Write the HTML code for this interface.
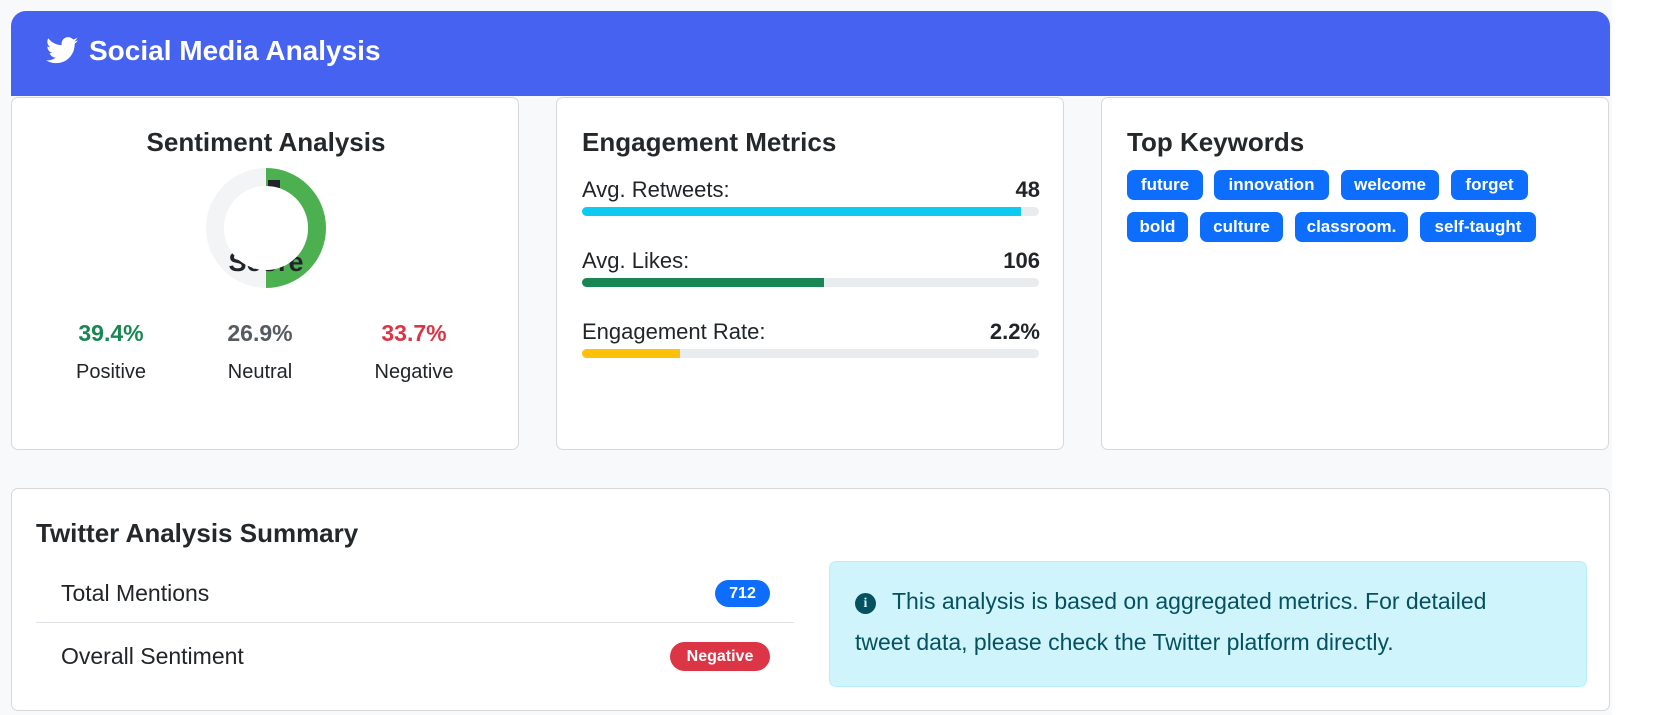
<!DOCTYPE html>
<html><head><meta charset="utf-8"><style>
*{box-sizing:border-box;margin:0;padding:0}
body{width:1674px;height:715px;background:#fff;font-family:"Liberation Sans",sans-serif;color:#212529;position:relative;overflow:hidden}
.wrap{position:absolute;left:0;top:0;width:1612px;height:715px;background:#f8f9fa}
.abs{position:absolute}
.header{left:11px;top:11px;width:1599px;height:85px;background:#4662f0;border-radius:15px 15px 0 0}
.card{background:#fff;border:1px solid #d6d8db;border-radius:7px}
.title{font-size:26px;font-weight:bold;white-space:nowrap;color:#25282b}
.badge{position:absolute;background:#0d6efd;color:#fff;font-weight:bold;font-size:17px;border-radius:7px;height:30px;line-height:30px;text-align:center}
.pct{font-size:23px;font-weight:bold;text-align:center;width:160px}
.lbl{font-size:20px;text-align:center;width:160px}
.row{font-size:23px}
</style></head><body>
<div class="wrap">
<div class="abs header">
<svg class="abs" style="left:35px;top:26px" width="32" height="27" viewBox="0 0 24 20"><path fill="#fff" d="M24 2.4c-.9.4-1.8.6-2.8.8 1-.6 1.8-1.6 2.2-2.7-1 .6-2 1-3.1 1.2C19.3.7 18 0 16.6 0c-2.7 0-4.9 2.2-4.9 4.9 0 .4 0 .8.1 1.1C7.7 5.8 4.1 3.900 1.7.9c-.4.7-.7 1.6-.7 2.5 0 1.7.9 3.2 2.2 4.1-.8 0-1.600-.2-2.2-.6v.1c0 2.4 1.7 4.4 3.9 4.8-.4.1-.8.2-1.3.2-.3 0-.6 0-.9-.1.6 2 2.4 3.4 4.6 3.4-1.7 1.3-3.8 2.1-6.1 2.1-.4 0-.8 0-1.2-.1 2.2 1.4 4.8 2.2 7.5 2.2 9.1 0 14-7.5 14-14v-.6c1-.7 1.8-1.6 2.5-2.5z"/></svg>
<div class="abs" style="left:78px;top:24px;font-size:28px;font-weight:bold;color:#fff">Social Media Analysis</div>
</div>

<div class="abs card" style="left:11px;top:97px;width:508px;height:353px">
<div class="abs title" style="left:0;width:508px;text-align:center;top:29px">Sentiment Analysis</div>
<svg class="abs" id="donut" style="left:194px;top:70px" width="120" height="120"></svg>
<div id="pcts"></div>
</div>

<div class="abs card" style="left:556px;top:97px;width:508px;height:353px">
<div class="abs title" style="left:25px;top:29px">Engagement Metrics</div>
<div id="eng"></div>
</div>

<div class="abs card" style="left:1101px;top:97px;width:508px;height:353px">
<div class="abs title" style="left:25px;top:29px">Top Keywords</div>
<div class="badge" style="left:25px;top:72px;width:76px">future</div>
<div class="badge" style="left:112px;top:72px;width:115px">innovation</div>
<div class="badge" style="left:239px;top:72px;width:98px">welcome</div>
<div class="badge" style="left:349px;top:72px;width:77px">forget</div>
<div class="badge" style="left:25px;top:114px;width:61px">bold</div>
<div class="badge" style="left:98px;top:114px;width:83px">culture</div>
<div class="badge" style="left:193px;top:114px;width:113px">classroom.</div>
<div class="badge" style="left:318px;top:114px;width:116px">self-taught</div>
</div>

<div class="abs card" style="left:11px;top:488px;width:1599px;height:223px">
<div class="abs title" style="left:24px;top:29px">Twitter Analysis Summary</div>
<div class="abs row" style="left:49px;top:91px">Total Mentions</div>
<div class="abs" style="left:703px;top:91px;width:55px;height:27px;border-radius:14px;background:#0d6efd;color:#fff;font-weight:bold;font-size:16px;text-align:center;line-height:27px">712</div>
<div class="abs" style="left:24px;top:133px;width:758px;height:1px;background:#dee2e6"></div>
<div class="abs row" style="left:49px;top:154px">Overall Sentiment</div>
<div class="abs" style="left:658px;top:153px;width:100px;height:29px;border-radius:15px;background:#dc3545;color:#fff;font-weight:bold;font-size:16px;text-align:center;line-height:29px">Negative</div>
<div class="abs" style="left:817px;top:72px;width:758px;height:126px;background:#cff4fc;border:1px solid #b6effb;border-radius:7px;color:#055160;font-size:23px;line-height:41px;padding:19px 10px 0 25px;white-space:nowrap"><span style="display:inline-block;width:21px;height:21px;border-radius:50%;background:#055160;color:#cff4fc;font-size:14px;font-weight:bold;text-align:center;line-height:21px;vertical-align:2px;margin-right:16px;font-family:'Liberation Serif',serif">i</span>This analysis is based on aggregated metrics. For detailed<br>tweet data, please check the Twitter platform directly.</div>
</div>
</div>
<script>
const sentimentLabels=["Positive","Neutral","Negative"];
const sentimentValues=[39.4,26.9,33.7];
const ringShare=[0.5];
const engLabels=["Avg. Retweets:","Avg. Likes:","Engagement Rate:"];
const engValues=["48","106","2.2%"];
const engFill=[96,53,21.5];
const engColors=["#0dcaf0","#198754","#ffc107"];
const sentColors=["#198754","#555b61","#dc3545"];
(function(){
const ns="http://www.w3.org/2000/svg",svg=document.getElementById('donut');
const cx=60,cy=60,r=51;
const bg=document.createElementNS(ns,'circle');
bg.setAttribute('cx',cx);bg.setAttribute('cy',cy);bg.setAttribute('r',r);bg.setAttribute('fill','none');bg.setAttribute('stroke','#f3f4f6');bg.setAttribute('stroke-width',18);


svg.appendChild(bg);
const a=ringShare[0]*2*Math.PI;
const p=document.createElementNS(ns,'path');
p.setAttribute('d',`M${cx} ${cy-r} A${r} ${r} 0 ${a>Math.PI?1:0} 1 ${cx+r*Math.sin(a)} ${cy-r*Math.cos(a)}`);
p.setAttribute('fill','none');p.setAttribute('stroke','#4caf50');p.setAttribute('stroke-width',18);


svg.appendChild(p);
const t=document.createElementNS(ns,'text');
t.setAttribute('x',cx);t.setAttribute('y',103);t.setAttribute('text-anchor','middle');t.setAttribute('font-size','27');t.setAttribute('font-weight','bold');t.setAttribute('fill','#212529');t.setAttribute('font-family','Liberation Sans, sans-serif');t.textContent='Score';


svg.appendChild(t);
const t2=document.createElementNS(ns,'rect');
t2.setAttribute('x',62);t2.setAttribute('y',12);t2.setAttribute('width',12);t2.setAttribute('height',8);t2.setAttribute('fill','#212529');


svg.appendChild(t2);
const inner=document.createElementNS(ns,'circle');
inner.setAttribute('cx',cx);inner.setAttribute('cy',cy);inner.setAttribute('r',42);inner.setAttribute('fill','#fff');


svg.appendChild(inner);
const pc=document.getElementById('pcts');const xs=[99,248,402];
sentimentLabels.forEach((l,i)=>{
const v=document.createElement('div');v.className='abs pct';v.style.left=(xs[i]-80)+'px';v.style.top='222px';v.style.color=sentColors[i];v.textContent=sentimentValues[i].toFixed(1)+'%';


pc.appendChild(v);
const d=document.createElement('div');d.className='abs lbl';d.style.left=(xs[i]-80)+'px';d.style.top='263px';d.textContent=l;


pc.appendChild(d);
});
const eng=document.getElementById('eng');const W=457;
engLabels.forEach((l,i)=>{
const top=79+i*71;
const lb=document.createElement('div');lb.className='abs';lb.style.cssText=`left:25px;top:${top}px;font-size:22px`;lb.textContent=l;


eng.appendChild(lb);
const vl=document.createElement('div');vl.className='abs';vl.style.cssText=`right:23px;top:${top}px;font-size:22px;font-weight:bold`;vl.textContent=engValues[i];


eng.appendChild(vl);
const tr=document.createElement('div');tr.className='abs';tr.style.cssText=`left:25px;top:${top+30}px;width:${W}px;height:9px;border-radius:5px;background:#e9ecef;overflow:hidden`;


const f=document.createElement('div');f.style.cssText=`width:${W*engFill[i]/100}px;height:9px;background:${engColors[i]}`;


tr.appendChild(f);eng.appendChild(tr);
});
})();
</script>
</body></html>
